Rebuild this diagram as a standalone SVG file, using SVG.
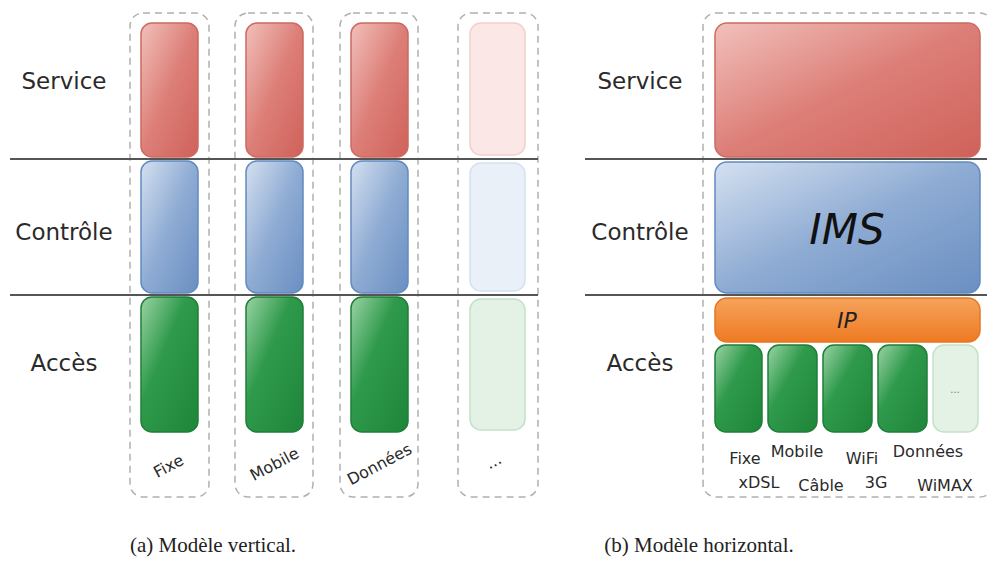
<svg xmlns="http://www.w3.org/2000/svg" width="987" height="571" viewBox="0 0 987 571">
<defs>
<linearGradient id="gRed" x1="0" y1="0" x2="1" y2="1">
<stop offset="0" stop-color="#f2c0bb"/><stop offset="0.5" stop-color="#dc7e77"/><stop offset="1" stop-color="#cf625a"/>
</linearGradient>
<linearGradient id="gBlue" x1="0" y1="0" x2="1" y2="1">
<stop offset="0" stop-color="#d4e0f0"/><stop offset="0.5" stop-color="#8eabd3"/><stop offset="1" stop-color="#6a8fc2"/>
</linearGradient>
<linearGradient id="gGreen" x1="0" y1="0" x2="1" y2="1">
<stop offset="0" stop-color="#9ad3a4"/><stop offset="0.4" stop-color="#2f9a4c"/><stop offset="1" stop-color="#1e8539"/>
</linearGradient>
<linearGradient id="gOrange" x1="0" y1="0" x2="0" y2="1">
<stop offset="0" stop-color="#f6a35c"/><stop offset="1" stop-color="#ee7a22"/>
</linearGradient>
<style>
.dash{fill:none;stroke:#b0b0b0;stroke-width:1.5;stroke-dasharray:7 5}
.red{fill:url(#gRed);stroke:#cc6a62;stroke-width:1.5}
.blue{fill:url(#gBlue);stroke:#628bc0;stroke-width:1.5}
.green{fill:url(#gGreen);stroke:#1f7f38;stroke-width:1.5}
.fred{fill:#fbe8e6;stroke:#f2d0cc;stroke-width:1.5}
.fblue{fill:#eaf0f8;stroke:#d6e1f0;stroke-width:1.5}
.fgreen{fill:#e4f2e6;stroke:#c3e1c8;stroke-width:1.5}
.orange{fill:url(#gOrange);stroke:#e8761e;stroke-width:1.5}
.sep{stroke:#555;stroke-width:1.8}
.lbl{font-family:"DejaVu Sans",sans-serif;font-size:23px;fill:#2a2a2a;text-anchor:middle}
.sm{font-family:"DejaVu Sans",sans-serif;font-size:16px;fill:#2a2a2a;text-anchor:middle}
.cap{font-family:"Liberation Serif",serif;font-size:21px;fill:#222;text-anchor:middle}
</style>
</defs>
<rect width="987" height="571" fill="#fff"/>

<g id="left-panel">
<g id="col-fixe">
<rect class="dash" x="130" y="13" width="79" height="484" rx="13"/>
<rect class="red" x="141" y="23" width="57" height="134" rx="11"/>
<rect class="blue" x="141" y="161" width="57" height="132" rx="11"/>
<rect class="green" x="141" y="297" width="57" height="135" rx="11"/>
<text class="sm" x="0" y="0" transform="translate(171,471) rotate(-28)">Fixe</text>
</g>
<g id="col-mobile">
<rect class="dash" x="235" y="13" width="78" height="484" rx="13"/>
<rect class="red" x="246" y="23" width="57" height="134" rx="11"/>
<rect class="blue" x="246" y="161" width="57" height="132" rx="11"/>
<rect class="green" x="246" y="297" width="57" height="135" rx="11"/>
<text class="sm" x="0" y="0" transform="translate(277,469) rotate(-28)">Mobile</text>
</g>
<g id="col-donnees">
<rect class="dash" x="340" y="13" width="78" height="484" rx="13"/>
<rect class="red" x="351" y="23" width="57" height="134" rx="11"/>
<rect class="blue" x="351" y="161" width="57" height="132" rx="11"/>
<rect class="green" x="351" y="297" width="57" height="135" rx="11"/>
<text class="sm" x="0" y="0" transform="translate(382,469) rotate(-28)">Données</text>
</g>
<g id="col-etc">
<rect class="dash" x="458" y="13" width="80" height="484" rx="13"/>
<rect class="fred" x="470" y="23" width="55" height="132" rx="11"/>
<rect class="fblue" x="470" y="163" width="55" height="128" rx="11"/>
<rect class="fgreen" x="470" y="299" width="55" height="131" rx="11"/>
<text class="sm" x="0" y="0" transform="translate(496,466) rotate(-28)">...</text>
</g>
<g id="left-labels">
<text class="lbl" x="64" y="89">Service</text>
<text class="lbl" x="64" y="240">Contrôle</text>
<text class="lbl" x="64" y="371">Accès</text>
</g>
</g>

<g id="right-panel">
<rect class="dash" x="703" y="13" width="290" height="484" rx="13"/>
<g id="service-box"><rect class="red" x="715" y="23" width="265" height="134" rx="12"/></g>
<g id="ims-box">
<rect class="blue" x="715" y="162" width="265" height="131" rx="12"/>
<text x="847" y="244" font-family="DejaVu Sans,sans-serif" font-size="42" font-style="italic" fill="#111" text-anchor="middle">IMS</text>
</g>
<g id="ip-box">
<rect class="orange" x="715" y="298" width="265" height="44" rx="12"/>
<text x="847" y="328" font-family="DejaVu Sans,sans-serif" font-size="22" font-style="italic" fill="#222" text-anchor="middle">IP</text>
</g>
<g id="access-boxes">
<rect class="green" x="715" y="345" width="47" height="87" rx="11"/>
<rect class="green" x="768" y="345" width="49" height="87" rx="11"/>
<rect class="green" x="823" y="345" width="49" height="87" rx="11"/>
<rect class="green" x="878" y="345" width="49" height="87" rx="11"/>
<rect class="fgreen" x="933" y="345" width="45" height="87" rx="11"/>
<text x="955" y="393" font-family="DejaVu Sans,sans-serif" font-size="10" fill="#777" text-anchor="middle">...</text>
</g>
<g id="access-labels">
<text class="sm" x="745" y="464">Fixe</text>
<text class="sm" x="797" y="457">Mobile</text>
<text class="sm" x="862" y="464">WiFi</text>
<text class="sm" x="928" y="457">Données</text>
<text class="sm" x="759" y="488">xDSL</text>
<text class="sm" x="821" y="491">Câble</text>
<text class="sm" x="876" y="488">3G</text>
<text class="sm" x="945" y="491">WiMAX</text>
</g>
<g id="right-labels">
<text class="lbl" x="640" y="89">Service</text>
<text class="lbl" x="640" y="240">Contrôle</text>
<text class="lbl" x="640" y="371">Accès</text>
</g>
</g>

<g id="connectors">
<line class="sep" x1="10" y1="159" x2="538" y2="159"/>
<line class="sep" x1="10" y1="295" x2="538" y2="295" stroke="#222"/>
<line class="sep" x1="585" y1="159" x2="987" y2="159"/>
<line class="sep" x1="585" y1="295" x2="987" y2="295" stroke="#222"/>
</g>

<text class="cap" x="213" y="552">(a) Modèle vertical.</text>
<text class="cap" x="699" y="552">(b) Modèle horizontal.</text>
</svg>
